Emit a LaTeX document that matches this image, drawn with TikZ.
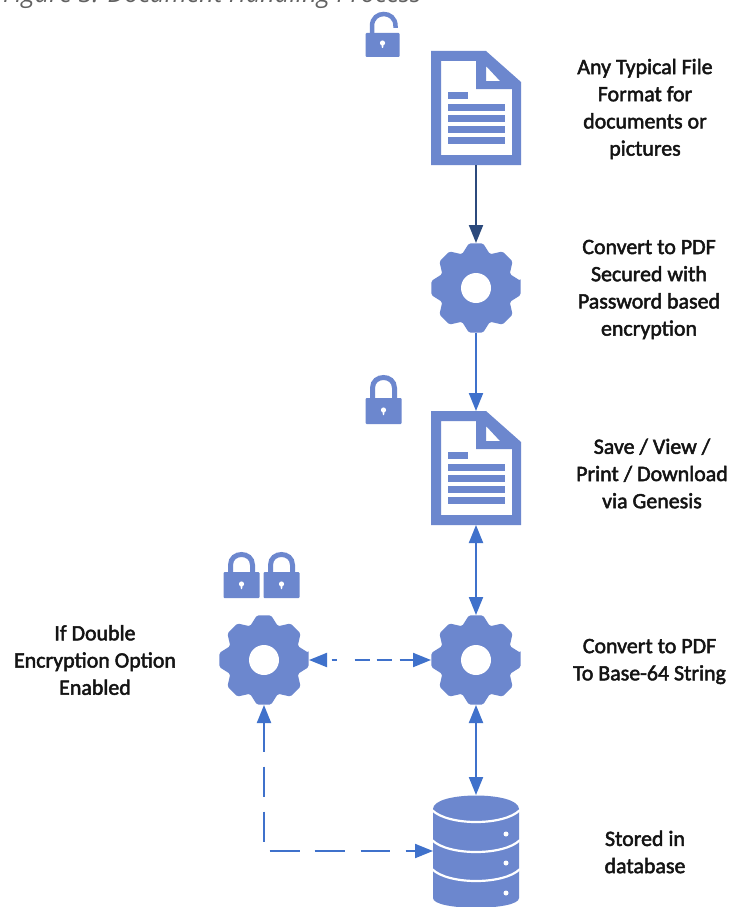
\documentclass[tikz,border=0pt]{standalone}
\usepackage{fontspec}
\setmainfont{Carlito}
\newfontfamily\lblfont[FakeBold=2.2]{Carlito}
\newfontfamily\capfont{Open Sans}
\usetikzlibrary{arrows.meta}
\definecolor{iconblue}{HTML}{6C87CE}
\definecolor{linkblue}{HTML}{3F71CB}
\definecolor{navy}{HTML}{2C4A7C}
\definecolor{inktext}{HTML}{141414}
\tikzset{
  slot/.style={inner sep=0pt,outer sep=0pt,minimum width=#1},
  label text/.style={font=\lblfont\fontsize{21.9}{27.2}\selectfont,text=inktext,align=center,inner sep=0pt},
  link/.style={draw=linkblue,line width=2pt,{Triangle[length=18pt,width=14pt]}-{Triangle[length=18pt,width=14pt]}},
  onelink/.style={draw=linkblue,line width=2pt,-{Triangle[length=18pt,width=14pt]}},
  pics/docicon/.style={code={
    \fill[iconblue,even odd rule] (-45,-57) -- (10,-57) -- (45,-26) -- (45,57) -- (-45,57) -- cycle
      (-35,-47) -- (0,-47) -- (0,-19) -- (36,-19) -- (36,47) -- (-35,47) -- cycle
      (10,-42) -- (10,-27) -- (24,-27) -- cycle;
    \fill[iconblue] (-28,-16) rectangle (-8,-9);
    \foreach \yy in {-4,7,18,29} \fill[iconblue] (-28,\yy) rectangle (29,\yy+6.5);
  }},
  pics/gearicon/.style={code={
    \fill[iconblue,rounded corners=1.6pt] (-9:45.2)
      \foreach \a in {0,45,...,315} { -- (\a-9:45.2) -- (\a+9:45.2) -- (\a+22.5:36.5) } -- cycle;
    \fill[white] (0,0) circle (15);
  }},
  pics/lockclosed/.style={code={
    \draw[iconblue,line width=5pt] (-11,2) -- (-11,#1) .. controls (-11,#1-14) and (11,#1-14) .. (11,#1) -- (11,2);
    \fill[iconblue,rounded corners=1pt] (-18,-1) rectangle (18,25);
    \fill[white] (0,11) circle (2.6);
    \fill[white] (-1.2,11) -- (1.2,11) -- (0.6,16) -- (-0.6,16) -- cycle;
  }},
  pics/lockopen/.style={code={
    \draw[iconblue,line width=4.5pt] (-10.5,2) -- (-10.5,-8) .. controls (-10.5,-24) and (13,-24) .. (13,-8) -- (13,-6);
    \fill[iconblue,rounded corners=1pt] (-17,-1) rectangle (17,23);
    \fill[white] (0,9) circle (2.6);
    \fill[white] (-1.2,9) -- (1.2,9) -- (0.6,14) -- (-0.6,14) -- cycle;
  }},
  pics/dbicon/.style={code={
    \fill[iconblue] (-43,-42) .. controls (-43,-60) and (43,-60) .. (43,-42)
      -- (43,47) .. controls (43,60) and (-43,60) .. (-43,47) -- cycle;
    \foreach \yy in {-41,-11,18}
      \draw[white,line width=2.2pt] (-44,\yy) .. controls (-28,\yy+16) and (28,\yy+16) .. (44,\yy);
    \foreach \yy in {-17,12,42} \fill[white] (30,\yy) circle (2.5);
  }},
}
\begin{document}
\begin{tikzpicture}[x=1pt,y=-1pt]
\useasboundingbox (0,0) rectangle (734,907);
\fill[white] (0,0) rectangle (734,907);

\node[anchor=base west,inner sep=0pt,font=\capfont\itshape\fontsize{25.3}{30}\selectfont,text=black!62] (caption) at (3,3) {Figure 3: Document Handling Process};

% icon slots
\node[slot=90pt,minimum height=114pt] (doc1) at (476,108) {};
\node[slot=90pt,minimum height=90pt] (gear1) at (476,288) {};
\node[slot=90pt,minimum height=114pt] (doc2) at (476,468) {};
\node[slot=90pt,minimum height=90pt] (gear2) at (476,660) {};
\node[slot=90pt,minimum height=90pt] (gear3) at (264,660) {};
\node[slot=86pt,minimum height=112pt] (db) at (476,851) {};
\node[slot=34pt,minimum height=45pt] (lockA) at (382.5,34) {};
\node[slot=36pt,minimum height=45pt] (lockB) at (383.5,399) {};
\node[slot=36pt,minimum height=46pt] (lockC) at (241.5,573) {};
\node[slot=36pt,minimum height=46pt] (lockD) at (281.5,573) {};

\pic at (doc1.center) {docicon};
\pic at (doc2.center) {docicon};
\pic at (gear1.center) {gearicon};
\pic at (gear2.center) {gearicon};
\pic at (gear3.center) {gearicon};
\pic at (db.center) {dbicon};
\pic at (lockA.center) {lockopen};
\pic at (lockB.center) {lockclosed=-11};
\pic at (lockC.center) {lockclosed=-8};
\pic at (lockD.center) {lockclosed=-8};

% connectors
\draw[draw=navy,line width=2pt,-{Triangle[length=18pt,width=14pt]}] (doc1.south) -- (gear1.north);
\draw[onelink] (gear1.south) -- (doc2.north);
\draw[link] (doc2.south) -- (gear2.north);
\draw[link] (gear2.south) -- (db.north);
\draw[link,dash pattern=on 0pt off 5pt on 5pt off 18pt on 15pt off 7pt on 15pt off 8pt on 15pt off 8pt on 40pt off 900pt] (gear3.east) -- (gear2.west);
\draw[link,dash pattern=on 29pt off 15pt on 30pt off 15pt on 30pt off 15pt on 30pt off 15pt on 30pt off 16pt on 29pt off 16pt on 40pt off 900pt] (gear3.south) |- (db.west);

% labels
\node[label text] (t1) at (645,109) {Any Typical File\\Format for\\documents or\\pictures};
\node[label text] (t2) at (649,289.5) {Convert to PDF\\Secured with\\Password based\\encryption};
\node[label text] (t3) at (652,473.5) {Save / View /\\Print / Download\\via Genesis};
\node[label text] (t4) at (649.5,661.5) {Convert to PDF\\To Base-64 String};
\node[label text] (t5) at (645,852) {Stored in\\database};
\node[label text] (t6) at (95,660) {If Double\\Encryption Option\\Enabled};
\end{tikzpicture}
\end{document}
